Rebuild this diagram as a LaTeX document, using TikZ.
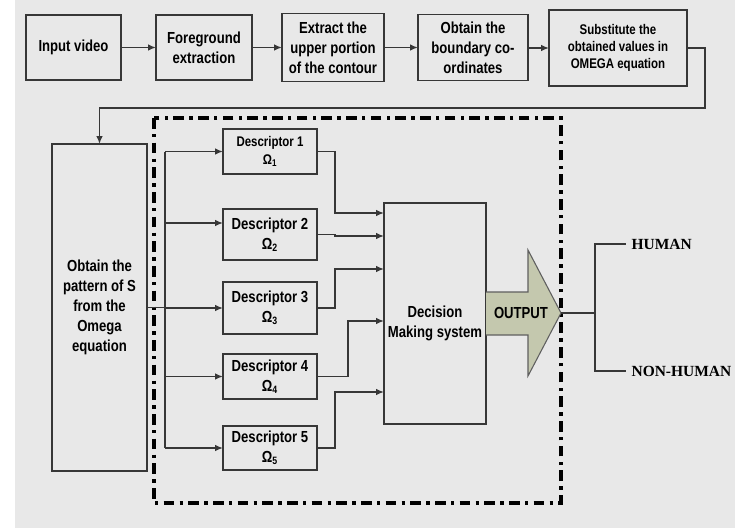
\documentclass[tikz,border=0pt]{standalone}
\usepackage{fontspec}
\setmainfont{Liberation Sans}
\newfontfamily\boxfont[FakeStretch=0.82]{Liberation Sans}
\newfontfamily\labelfont{Liberation Serif}
\usetikzlibrary{calc,arrows.meta}
\definecolor{paper}{RGB}{232,232,232}
\definecolor{edge}{RGB}{55,55,55}
\definecolor{outfill}{RGB}{196,200,174}
\tikzset{
	block/.style={draw=edge,line width=1.1pt,fill=paper,align=center,inner sep=2pt,outer sep=0pt,
		font=\boxfont\bfseries\fontsize{12}{15}\selectfont},
	smalltext/.style={font=\boxfont\bfseries\fontsize{10.5}{13}\selectfont},
	link/.style={draw=edge,line width=1.1pt,-{Latex[length=6pt,width=5pt]}},
	wire/.style={draw=edge,line width=1.1pt},
	frame/.style={line width=2.3pt,dash pattern=on 8pt off 4pt on 2.5pt off 4pt},
	result/.style={font=\labelfont\bfseries\fontsize{11.6}{13}\selectfont,inner sep=4pt,anchor=west}
}
\newcommand{\Block}[6][]{
	\node[block,minimum width=#4*0.75pt,minimum height=#5*0.75pt,#1] (#2) at (#3) {#6};
}

\begin{document}
\begin{tikzpicture}[x=0.75pt,y=-0.75pt]
	\useasboundingbox (0,0) rectangle (735,528);
	%paper
	\fill[white] (0,0) rectangle (735,528);
	\fill[paper] (15,0) rectangle (735,528);
	%top row
	\Block{inp}{73.5,47.5}{95}{65}{Input video}
	\Block{fg}{204,47.5}{96}{65}{Foreground\\extraction}
	\Block{upper}{333,47.5}{102}{68}{Extract the\\upper portion\\of the contour}
	\Block{bnd}{473,47.5}{110}{66}{Obtain the\\boundary co-\\ordinates}
	\Block[smalltext]{subs}{618,48}{138}{76}{Substitute the\\obtained values in\\OMEGA equation}
	\draw[link] (inp) -- (fg);
	\draw[link] (fg) -- (upper);
	\draw[link] (upper) -- (bnd);
	\draw[link] (bnd.east |- subs.west) -- (subs.west);
	%pattern box
	\Block{pat}{99.5,307.5}{95}{327}{Obtain the\\pattern of S\\from the\\Omega\\equation}
	\draw[link] (subs.east) -- ++(18,0) -- ++(0,60) -| (pat.north);
	%frame
	\draw[frame] (154,118) rectangle (561,503);
	%descriptors
	\Block[smalltext]{D1}{270,151.5}{94}{45}{Descriptor 1\\Ω\textsubscript{1}}
	\Block{D2}{270,234.5}{94}{51}{Descriptor 2\\Ω\textsubscript{2}}
	\Block{D3}{270,308}{94}{52}{Descriptor 3\\Ω\textsubscript{3}}
	\Block{D4}{270,376.5}{94}{45}{Descriptor 4\\Ω\textsubscript{4}}
	\Block{D5}{270,448}{94}{44}{Descriptor 5\\Ω\textsubscript{5}}
	\coordinate (bus) at (165,0);
	\draw[wire] (bus |- D1.west) -- (bus |- D5.west);
	\draw[wire] (pat.east) -- (pat.east -| bus);
	\foreach \i/\dy in {1/0,2/-11.5,3/0,4/0,5/0}{
		\draw[link] ($(bus |- D\i.west)+(0,\dy)$) -- ($(D\i.west)+(0,\dy)$);
	}
	%decision
	\Block{dec}{435,313.5}{102}{221}{}
	\node[block,draw=none,fill=none] (dectext) at (435,323) {Decision\\Making system};
	\foreach \i/\bx/\dy in {1/18/10,2/18/33,3/18/66,4/31/118,5/18/189}{
		\draw[link] (D\i.east) -- ++(\bx,0) |- ($(dec.north west)+(0,\dy)$);
	}
	%output arrow
	\filldraw[fill=outfill,draw=edge!80,line width=0.8pt] (486,292) -- (528,292) -- (528,250)
		-- (561,313) -- (528,376) -- (528,335) -- (486,335);
	\node[block,draw=none,fill=none] (out) at (521,313) {OUTPUT};
	\coordinate (tip) at (561,313);
	\coordinate (split) at (595,313);
	%results
	\node[result] (hum) at (626,244) {HUMAN};
	\node[result] (non) at (626,371) {NON-HUMAN};
	\draw[wire,line width=0.8pt] (tip) -- (split);
	\draw[wire,line width=0.8pt] (split) |- (hum.west);
	\draw[wire,line width=0.8pt] (split) |- (non.west);
\end{tikzpicture}
\end{document}
